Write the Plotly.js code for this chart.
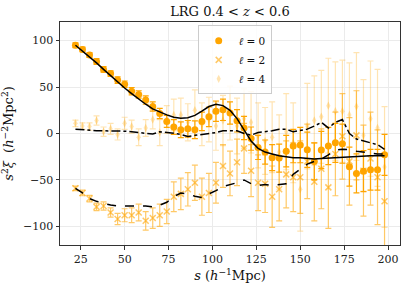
<!DOCTYPE html>
<html><head><meta charset="utf-8">
<script src="https://cdn.plot.ly/plotly-3.0.1.min.js"></script>
<style>html,body{margin:0;padding:0;background:#fff}#chart{width:407px;height:286px}</style>
</head><body><div id="chart"></div>
<script>
const sBins = [22,26,30,34,38,42,46,50,54,58,62,66,70,74,78,82,86,90,94,98,102,106,110,114,118,122,126,130,134,138,142,146,150,154,158,162,166,170,174,178,182,186,190,194,198];

const xi0 = [95,90.5,84.5,77.5,69,64.5,57.5,53,45.5,42,36,29,21.5,13,7,4,5,4,13,18,24,25.5,22,13.6,6,-5.5,-15,-20,-26,-26.5,-19,-13.5,-12.5,-17.5,-30,-17.8,-13.5,-10,-11,-35.7,-43,-40.5,-39,-39,-23];
const err0 = [2.5,2.5,2.5,3,3,3,3.5,3.5,4,4,4.5,5,5.5,6.5,8,8.5,9,9.5,10,10.5,11,11.5,12,12,12.5,12.5,13,13,14,15,17,18,19,19,20,20,20,21,21,21,21,22,22,22,22];

const xi2 = [-59,-64,-70,-79,-78,-85,-92,-88,-88,-85,-94,-91,-88,-84,-68,-65,-60,-53,-68,-64,-53,-35,-43,-31,-16,-40,-53,-54,-68,-60,-44,-47,-47,-30,-52,-38,-58,-22,-3,-30,-2,-40,-27,-47,-73];
const err2 = [2.5,3,3.5,4,4.5,5,6,7,8,9,10,11,12,13,16,17,18,19,20,21,22,23,24,25,27,28,30,31,33,34,36,37,39,40,42,43,44,45,46,47,48,49,50,51,52];

const xi4 = [11,8,7.5,14,2,5,-1,11,7.5,-4,6,15,1,15,20,20,12,25,10,15,8,14,22,8,16,12,-2,-8,-4,-20,2,-10,-60,8,14,18,30,24,24,20,29,-2,16,6,-36];
const err4 = [3.5,3.5,4,5,5,6,6,6.5,7,9,9,10,14,15,17,18,20,22,23,24,26,27,29,30,32,33,35,36,38,40,41,43,45,46,48,50,51,53,55,56,58,60,62,63,65];

const model0 = [95,89,83,76,69,62,55.5,49,43,37,31.5,26.5,23,20,17.5,16.5,17,19.5,24,29,31.5,30,25,16,4,-8,-16,-20,-22,-24,-25,-26,-26,-27,-27.5,-27,-26.5,-26,-25.5,-25,-24.5,-24,-24,-24,-24];
const model2 = [-59,-64,-70,-73,-75,-77,-78,-78,-77.5,-78,-78,-79,-77,-74,-68,-64,-65,-67.5,-69,-65,-61.5,-57,-55,-53,-50,-54,-56,-55,-56,-55,-54,-44,-38,-33,-30,-27.5,-23,-18,-17,-17.5,-19,-20,-21,-22,-22];
const model4 = [4.7,4,3.2,3,2.9,2.9,2.9,2.5,1.8,1,0,-0.6,1.8,1.2,0.4,-1,-3.2,-2,-1,0,1,2.9,2.9,2.9,0,-1.7,1,1.8,3,4.5,4.7,1.8,2.9,4.7,8,12,6,12,15,0,-6,-8,-10,-12,-17];

const ORANGE = 'rgb(255,165,0)';
const O2 = 'rgba(255,165,0,0.6)';
const O4 = 'rgba(255,165,0,0.3)';
const FONT = 'DejaVu Serif';

const traces = [
  {x: sBins, y: xi0, type:'scatter', mode:'markers', name:'<i>ℓ</i> = 0',
   marker:{symbol:'circle', size:7, color:ORANGE},
   error_y:{type:'data', array:err0, color:ORANGE, thickness:1.2, width:3}},
  {x: sBins, y: xi2, type:'scatter', mode:'markers', name:'<i>ℓ</i> = 2',
   marker:{symbol:'x-thin-open', size:6, color:O2, line:{color:O2, width:1.5}},
   error_y:{type:'data', array:err2, color:O2, thickness:1.2, width:3}},
  {x: sBins, y: xi4, type:'scatter', mode:'markers', name:'<i>ℓ</i> = 4',
   marker:{symbol:'diamond-tall', size:6, color:O4},
   error_y:{type:'data', array:err4, color:O4, thickness:1.2, width:3}},
  {x: sBins, y: model0, type:'scatter', mode:'lines', showlegend:false,
   line:{color:'black', width:1.5}},
  {x: sBins, y: model2, type:'scatter', mode:'lines', showlegend:false,
   line:{color:'black', width:1.5, dash:'dash'}},
  {x: sBins, y: model4, type:'scatter', mode:'lines', showlegend:false,
   line:{color:'black', width:1.5, dash:'dashdot'}}
];

const axisCommon = {
  showline:true, mirror:true, linecolor:'#333', linewidth:1,
  ticks:'outside', ticklen:3.5, tickcolor:'#333', tickwidth:1,
  showgrid:true, gridcolor:'#ebebeb', gridwidth:1, zeroline:false,
  tickfont:{family:FONT, size:11, color:'#222'}
};

const layout = {
  width:407, height:286,
  margin:{l:60, r:7, t:22, b:41},
  paper_bgcolor:'#fff', plot_bgcolor:'#fff',
  title:{text:'LRG 0.4 &lt; <i>z</i> &lt; 0.6', font:{family:FONT, size:13, color:'#111'}, x:0.565, xanchor:'center', y:0.96, yanchor:'middle'},
  xaxis: Object.assign({}, axisCommon, {
    range:[13.2, 206.8], tickvals:[25,50,75,100,125,150,175,200],
    title:{text:'<i>s</i> (<i>h</i><sup>−1</sup>Mpc)', font:{family:FONT, size:13, color:'#111'}, standoff:6}
  }),
  yaxis: Object.assign({}, axisCommon, {
    range:[-120, 120], tickvals:[-100,-50,0,50,100], ticktext:['−100','−50','0','50','100'],
    title:{text:'<i>s</i><sup>2</sup><i>ξ</i>  (<i>h</i><sup>−2</sup>Mpc<sup>2</sup>)', font:{family:FONT, size:13, color:'#111'}, standoff:6}
  }),
  legend:{x:0.405, y:0.985, xanchor:'left', yanchor:'top', bgcolor:'rgba(255,255,255,0.85)',
    bordercolor:'#cccccc', borderwidth:1, font:{family:FONT, size:10.5, color:'#111'},
    itemwidth:30, tracegroupgap:0},
  showlegend:true
};

Plotly.newPlot('chart', traces, layout, {staticPlot:true, displayModeBar:false});
</script>
</body></html>
